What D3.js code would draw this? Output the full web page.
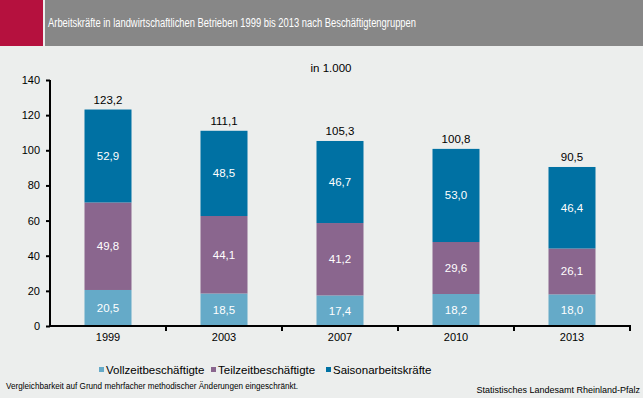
<!DOCTYPE html>
<html><head><meta charset="utf-8">
<script src="https://cdn.jsdelivr.net/npm/d3@7"></script>
<style>body{margin:0;background:#eceeed;}svg{display:block;font-family:Arial,"Liberation Sans",sans-serif;}</style>
</head><body><svg id="c" width="643" height="398"></svg>
<script>
const years = ["1999","2003","2007","2010","2013"];
const seriesNames = ["Vollzeitbeschäftigte","Teilzeitbeschäftigte","Saisonarbeitskräfte"];
const vollzeit = [20.5,18.5,17.4,18.2,18.0];
const teilzeit = [49.8,44.1,41.2,29.6,26.1];
const saison = [52.9,48.5,46.7,53.0,46.4];
const totals = [123.2,111.1,105.3,100.8,90.5];
const yTicks = [0,20,40,60,80,100,120,140];
const colors = ["#65aac8","#8a668e","#0071a3"];

const svg = d3.select("#c");
svg.append("rect").attr("width",643).attr("height",398).attr("fill","#eceeed");
svg.append("rect").attr("x",0).attr("y",0).attr("width",43).attr("height",46).attr("fill","#b5113e");
svg.append("rect").attr("x",45).attr("y",0).attr("width",598).attr("height",46).attr("fill","#878787");
svg.append("text").attr("x",48).attr("y",27).attr("fill","#fff").attr("font-size",12.5)
  .attr("textLength",368).attr("lengthAdjust","spacingAndGlyphs")
  .text("Arbeitskräfte in landwirtschaftlichen Betrieben 1999 bis 2013 nach Beschäftigtengruppen");

const x = d3.scaleBand().domain(years).range([50,630]);
const y = d3.scaleLinear().domain([0,140]).range([326,80]);
const fmt = v => d3.format(".1f")(v).replace(".",",");

const data = years.map((yr,i)=>({year:yr,v:[vollzeit[i],teilzeit[i],saison[i]]}));
const barW = 47;
data.forEach((d,i)=>{
  let base = 0;
  d.v.forEach((val,k)=>{
    const x0 = x(d.year)+x.bandwidth()/2-barW/2;
    svg.append("rect").attr("x",x0).attr("y",y(base+val)).attr("width",barW)
      .attr("height",y(base)-y(base+val)).attr("fill",colors[k]);
    svg.append("text").attr("x",x(d.year)+x.bandwidth()/2).attr("y",(y(base)+y(base+val))/2+4)
      .attr("text-anchor","middle").attr("fill","#fff").attr("font-size",11.5).text(fmt(val));
    base += val;
  });
  svg.append("text").attr("x",x(d.year)+x.bandwidth()/2).attr("y",y(totals[i])-6)
    .attr("text-anchor","middle").attr("fill","#000").attr("font-size",11.5).text(fmt(totals[i]));
});

// y axis
const ya = svg.append("g").attr("transform","translate(50,0)")
  .call(d3.axisLeft(y).tickValues(yTicks).tickSize(4).tickPadding(6).tickFormat(d=>d));
ya.select(".domain").attr("stroke","#000").attr("stroke-width",2).attr("d","M0,80V326");
ya.selectAll(".tick line").attr("stroke","#000").attr("stroke-width",2);
ya.selectAll(".tick text").attr("font-size",11).attr("fill","#000").attr("font-family","Arial,'Liberation Sans',sans-serif");

// x axis
const xa = svg.append("g").attr("transform","translate(0,326)")
  .call(d3.axisBottom(x).tickSize(0).tickPadding(7));
xa.select(".domain").attr("stroke","#000").attr("stroke-width",2).attr("d","M49,0H631");
xa.selectAll(".tick text").attr("font-size",11).attr("fill","#000").attr("font-family","Arial,'Liberation Sans',sans-serif");
svg.append("g").selectAll("line").data(years.slice(1).concat(["end"])).join("line")
  .attr("x1",d=>d==="end"?630:x(d)).attr("x2",d=>d==="end"?630:x(d))
  .attr("y1",326).attr("y2",331).attr("stroke","#000").attr("stroke-width",2);

svg.append("text").attr("x",331).attr("y",72).attr("text-anchor","middle").attr("font-size",11.5).attr("fill","#000").text("in 1.000");

// legend
const legX = [99,211,326];
seriesNames.forEach((n,k)=>{
  svg.append("rect").attr("x",legX[k]).attr("y",367).attr("width",5).attr("height",5).attr("fill",colors[k]);
  svg.append("text").attr("x",legX[k]+7).attr("y",373.5).attr("font-size",11.5).attr("fill","#000").text(n);
});

svg.append("text").attr("x",6).attr("y",389).attr("font-size",8.5).attr("fill","#000")
  .attr("textLength",292).attr("lengthAdjust","spacingAndGlyphs")
  .text("Vergleichbarkeit auf Grund mehrfacher methodischer Änderungen eingeschränkt.");
svg.append("text").attr("x",640).attr("y",393).attr("text-anchor","end").attr("font-size",9).attr("fill","#000")
  .text("Statistisches Landesamt Rheinland-Pfalz");
</script></body></html>
